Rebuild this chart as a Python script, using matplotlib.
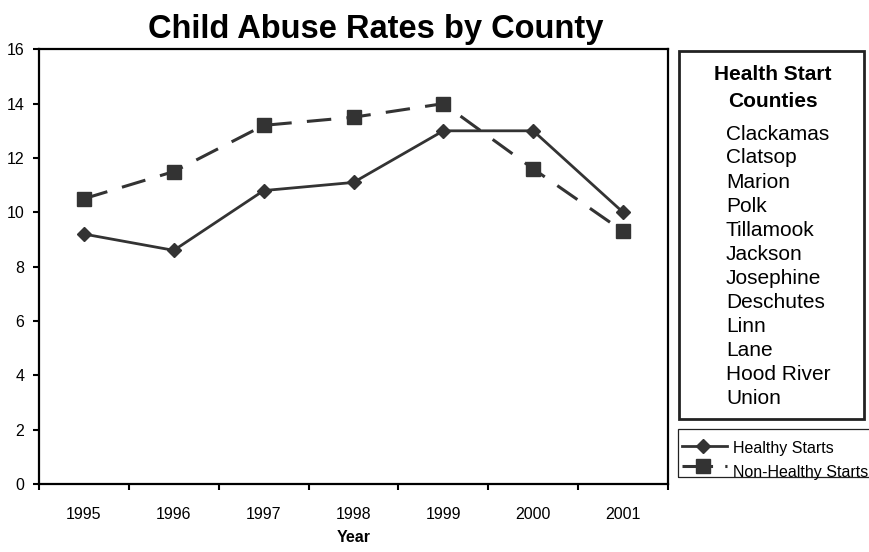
import matplotlib
matplotlib.use("Agg")
import matplotlib.pyplot as plt
from matplotlib.lines import Line2D
from matplotlib.patches import Rectangle

plt.rcParams['font.family'] = ['Liberation Sans', 'DejaVu Sans']

years = ['1995', '1996', '1997', '1998', '1999', '2000', '2001']
healthy = [9.2, 8.6, 10.8, 11.1, 13.0, 13.0, 10.0]
non_healthy = [10.5, 11.5, 13.2, 13.5, 14.0, 11.6, 9.3]
counties = ['Clackamas', 'Clatsop', 'Marion', 'Polk', 'Tillamook', 'Jackson',
            'Josephine', 'Deschutes', 'Linn', 'Lane', 'Hood River', 'Union']

W, H = 869, 552
line_col = '#333333'

fig = plt.figure(figsize=(W / 100, H / 100), dpi=100)
ax = fig.add_axes([39 / W, 1 - 484 / H, (668 - 39) / W, (484 - 49.3) / H])

x = list(range(len(years)))
ax.plot(x, healthy, color=line_col, lw=2.0, marker='D', ms=7.5,
        mec=line_col, mfc=line_col, label='Healthy Starts')
ax.plot(x, non_healthy, color=line_col, lw=2.2, marker='s', ms=9.5,
        mec=line_col, mfc=line_col, dashes=(8, 5), dash_capstyle='butt',
        label='Non-Healthy Starts')

ax.set_xlim(-0.5, len(years) - 0.5)
ax.set_ylim(0, 16)
ax.set_yticks(range(0, 17, 2))
ax.set_xticks(x)
ax.set_xticklabels(years)
ax.set_xticks([i - 0.5 for i in range(len(years) + 1)], minor=True)
ax.tick_params(axis='x', which='major', length=0, pad=16.5, labelsize=11.5)
ax.tick_params(axis='x', which='minor', length=4, width=1.5, direction='out')
ax.tick_params(axis='y', length=4.5, width=1.5, direction='out', pad=6,
               labelsize=11.5)
for sp in ax.spines.values():
    sp.set_linewidth(1.6)
    sp.set_color('black')

ax.set_xlabel('Year', fontsize=11.5, fontweight='bold', labelpad=6)
fig.text(376 / W, 1 - 38 / H, 'Child Abuse Rates by County', ha='center',
         va='baseline', fontsize=23.5, fontweight='bold')

# counties box
fig.add_artist(Rectangle((679 / W, 1 - 419 / H), (864 - 679) / W, (419 - 51) / H,
                         transform=fig.transFigure, fill=False, lw=2,
                         edgecolor='#222222'))
fig.text(773 / W, 1 - 75 / H, 'Health Start', ha='center', va='center',
         fontsize=15, fontweight='bold')
fig.text(773 / W, 1 - 102 / H, 'Counties', ha='center', va='center',
         fontsize=15, fontweight='bold')
for i, name in enumerate(counties):
    fig.text(726 / W, 1 - (134 + i * 24.0) / H, name, ha='left', va='center',
             fontsize=15)

# legend box
fig.add_artist(Rectangle((678 / W, 1 - 477 / H), (880 - 678) / W, (477 - 429) / H,
                         transform=fig.transFigure, fill=False, lw=0.9,
                         edgecolor='#222222', clip_on=False))
fig.add_artist(Line2D([682 / W, 727 / W], [1 - 446 / H, 1 - 446 / H],
                      transform=fig.transFigure, color=line_col, lw=2.0))
fig.add_artist(Line2D([703 / W], [1 - 446 / H], transform=fig.transFigure,
                      marker='D', ms=7.5, color=line_col, lw=0))
fig.add_artist(Line2D([682 / W, 727 / W], [1 - 466 / H, 1 - 466 / H],
                      transform=fig.transFigure, color=line_col, lw=2.2,
                      dashes=(10, 4), dash_capstyle='butt'))
fig.add_artist(Line2D([703 / W], [1 - 466 / H], transform=fig.transFigure,
                      marker='s', ms=9.5, color=line_col, lw=0))
fig.text(733 / W, 1 - 448 / H, 'Healthy Starts', ha='left', va='center',
         fontsize=11.5)
fig.text(733 / W, 1 - 472 / H, 'Non-Healthy Starts', ha='left', va='center',
         fontsize=11.5)

fig.savefig('out.png', dpi=100)
